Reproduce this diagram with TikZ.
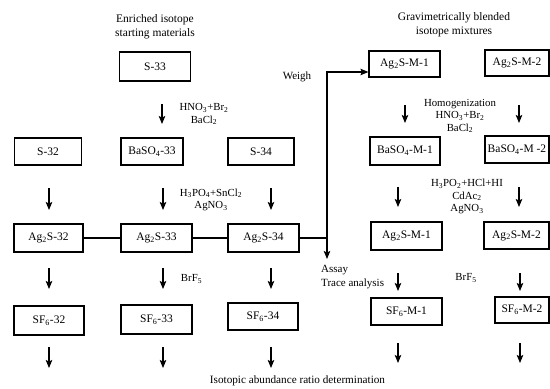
\documentclass[tikz,border=0pt]{standalone}
\usepackage{fontspec}
\setmainfont{Liberation Serif}
\usetikzlibrary{arrows.meta}
\newcommand{\sbs}[1]{\textsubscript{#1}}
\begin{document}
\begin{tikzpicture}[x=1pt,y=-1pt,
  box/.style={draw, line width=1.1pt, minimum width=70pt, minimum height=28pt, inner sep=0pt, font=\fontsize{11.5}{13}\selectfont},
  ttl/.style={align=center, inner sep=0pt, font=\fontsize{11.5}{14}\selectfont},
  lbl/.style={align=center, inner sep=0pt, font=\fontsize{10.8}{12.5}\selectfont},
  arr/.style={line width=1.1pt, -{Stealth[length=8pt,width=6.5pt,inset=1.5pt]}},
  conn/.style={line width=1.1pt}]
\useasboundingbox (0,0) rectangle (550,389);

% titles
\node[ttl] (t1) at (155,27) {Enriched isotope\\starting materials};
\node[ttl] (t2) at (454,25) {Gravimetrically blended\\isotope mixtures};

% left boxes
\node[box, minimum width=71pt, minimum height=29pt] (s33) at (155,66.5) {S-33};
\node[box, minimum width=67pt, minimum height=27pt] (s32) at (48,151.5) {S-32};
\node[box, minimum width=62pt, minimum height=27pt] (ba33) at (152,151.5) {BaSO\sbs{4}-33};
\node[box, minimum width=66pt, minimum height=27pt] (s34) at (261,151.5) {S-34};
\node[box, minimum width=69pt] (ag32) at (48.5,238) {Ag\sbs{2}S-32};
\node[box, minimum width=71pt] (ag33) at (156.5,238) {Ag\sbs{2}S-33};
\node[box, minimum width=71pt] (ag34) at (263.5,238) {Ag\sbs{2}S-34};
\node[box, minimum width=70pt, minimum height=29pt] (sf32) at (49,320.5) {SF\sbs{6}-32};
\node[box, minimum width=71pt, minimum height=29pt] (sf33) at (156.5,319.5) {SF\sbs{6}-33};
\node[box, minimum width=70pt, minimum height=27pt] (sf34) at (263,316.5) {SF\sbs{6}-34};

% right boxes
\node[box, minimum width=71pt, minimum height=26pt] (agm1t) at (404.5,64) {Ag\sbs{2}S-M-1};
\node[box, minimum width=64pt, minimum height=26pt] (agm2t) at (517,63) {Ag\sbs{2}S-M-2};
\node[box, minimum width=70pt, minimum height=28pt] (bam1) at (405,151) {BaSO\sbs{4}-M-1};
\node[box, minimum width=64pt, minimum height=27pt] (bam2) at (517,149.5) {BaSO\sbs{4}-M -2};
\node[box, minimum width=71pt, minimum height=28pt] (agm1) at (406.5,236) {Ag\sbs{2}S-M-1};
\node[box, minimum width=65pt, minimum height=27pt] (agm2) at (516.5,235.5) {Ag\sbs{2}S-M-2};
\node[box, minimum width=71pt, minimum height=27pt] (sfm1) at (406.5,311.5) {SF\sbs{6}-M-1};
\node[box, minimum width=54pt, minimum height=26pt] (sfm2) at (522,310) {SF\sbs{6}-M-2};

% reagent labels
\node[lbl] (r1) at (204,114) {HNO\sbs{3}+Br\sbs{2}\\BaCl\sbs{2}};
\node[lbl] (r2) at (211,200) {H\sbs{3}PO\sbs{4}+SnCl\sbs{2}\\AgNO\sbs{3}};
\node[lbl] (r3) at (191.5,279) {BrF\sbs{5}};
\node[lbl] (r4) at (460,116) {Homogenization\\HNO\sbs{3}+Br\sbs{2}\\BaCl\sbs{2}};
\node[lbl] (r5) at (467,196.5) {H\sbs{3}PO\sbs{2}+HCl+HI\\CdAc\sbs{2}\\AgNO\sbs{3}};
\node[lbl] (r6) at (466,278) {BrF\sbs{5}};
\node[lbl, font=\fontsize{11}{13}\selectfont] (weigh) at (297,77) {Weigh};
\node[lbl, align=left, anchor=west, font=\fontsize{11}{14}\selectfont] (assay) at (321,277) {Assay\\Trace analysis};
\node[lbl, font=\fontsize{11.2}{13}\selectfont] (iso) at (297.5,381) {Isotopic abundance ratio determination};

% free arrows
\foreach \n/\x/\ya/\yb in {
  a1/162/104/124,
  b1/49/188/210, b2/163/188/210, b3/271/188/210,
  c1/49/268/289, c2/163/268/289, c3/271/268/289,
  d1/49/347/368, d2/163/347/368, d3/271/347/368,
  e1/405/105/123, e2/519/105/123,
  f1/398/187/207, f2/519/187/207,
  g1/398/273/291, g2/520/273/291,
  h1/398/343/363, h2/520/343/363} {
  \coordinate (\n s) at (\x,\ya);
  \coordinate (\n e) at (\x,\yb);
  \draw[arr] (\n s) -- (\n e);
}

% connectors
\draw[conn] (ag32) -- (ag33);
\draw[conn] (ag33) -- (ag34);
\coordinate (j) at (327,238);
\coordinate (assaytip) at (327,259);
\draw[conn] (ag34.east) -- (j);
\draw[arr] (j) -- (assaytip);
\draw[arr] (j) |- ([yshift=-8pt]agm1t.west);
\end{tikzpicture}
\end{document}
